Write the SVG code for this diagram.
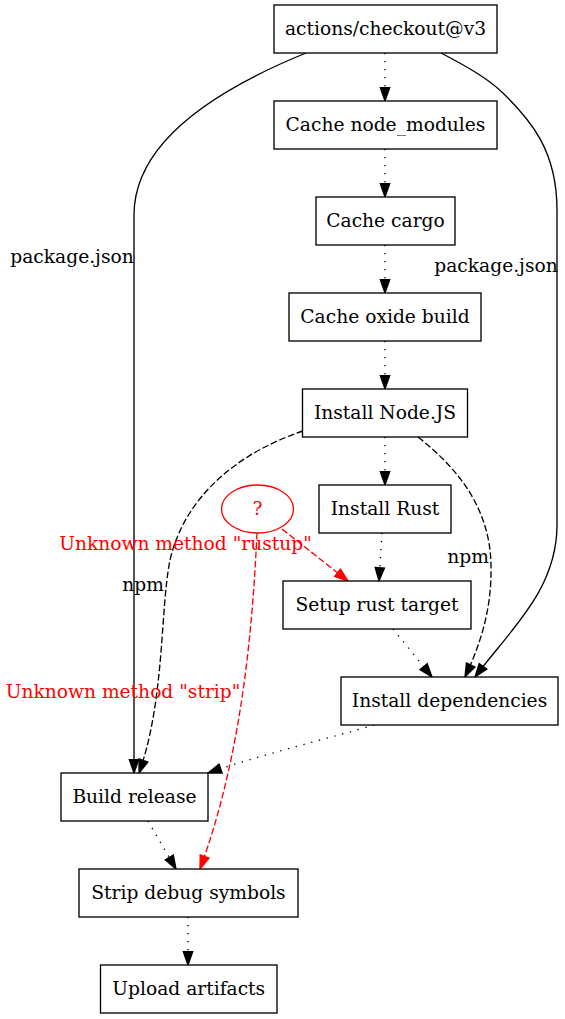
<svg xmlns="http://www.w3.org/2000/svg" width="565" height="1019" viewBox="0 0 565 1019">
<style>
  text { font-family: "DejaVu Serif", serif; font-size: 18.67px; text-anchor: middle; }
  .box { fill: #ffffff; stroke: #000000; stroke-width: 1.33; }
  .bad { fill: #ffffff; stroke: #ff0000; stroke-width: 1.33; }
  .red { fill: #ff0000; }
  .e { fill: none; stroke: #000000; stroke-width: 1.33; }
  .solid { marker-end: url(#ab); }
  .dot { stroke-dasharray: 1.33 6.67; marker-end: url(#ab); }
  .dash { stroke-dasharray: 6.67 2.67; marker-end: url(#ab); }
  .rdash { stroke: #ff0000; stroke-dasharray: 6.67 2.67; marker-end: url(#ar); }
</style>
<defs>
  <marker id="ab" markerUnits="userSpaceOnUse" viewBox="-1 -6 16 12" markerWidth="16" markerHeight="12" refX="13.33" refY="0" orient="auto">
    <path d="M0,-4.67 L13.33,0 L0,4.67 Z" fill="#000000" stroke="#000000" stroke-width="1.33" stroke-dasharray="none"/>
  </marker>
  <marker id="ar" markerUnits="userSpaceOnUse" viewBox="-1 -6 16 12" markerWidth="16" markerHeight="12" refX="13.33" refY="0" orient="auto">
    <path d="M0,-4.67 L13.33,0 L0,4.67 Z" fill="#ff0000" stroke="#ff0000" stroke-width="1.33" stroke-dasharray="none"/>
  </marker>
</defs>
<rect width="565" height="1019" fill="#ffffff"/>
<g id="edges">
  <path class="e solid" d="M306,53 C220,88 134,140 134,215 L134,773"/>
  <path class="e solid" d="M441,53 C470,68 490,80 505,95 C530,120 557,150 557,210 L557,525 C557,590 510,630 475,677"/>
  <path class="e dot" d="M385,53 L385,101"/>
  <path class="e dot" d="M385,149 L385,197"/>
  <path class="e dot" d="M385,245 L385,293"/>
  <path class="e dot" d="M385,341 L385,389"/>
  <path class="e dot" d="M385,437 L385,485"/>
  <path class="e dash" d="M303,431 C240,452 185,495 170,560 C160,610 165,700 139,773"/>
  <path class="e dash" d="M418,437 C460,470 490,510 491,565 C492,610 480,645 465,677"/>
  <path class="e dot" d="M382,533 L379,581"/>
  <path class="e dot" d="M393,629 L432,677"/>
  <path class="e dot" d="M374,725 C330,738 260,755 208,773"/>
  <path class="e dot" d="M148,821 L176,869"/>
  <path class="e dot" d="M188,917 L188,965"/>
  <path class="e rdash" d="M282,529 L348,581"/>
  <path class="e rdash" d="M257,533 C252,640 240,760 200,869"/>
  <text x="72" y="263">package.json</text>
  <text x="496" y="272">package.json</text>
  <text x="143" y="591">npm</text>
  <text x="468" y="563">npm</text>
  <text class="red" x="185.5" y="550">Unknown method "rustup"</text>
  <text class="red" x="123" y="698">Unknown method "strip"</text>
</g>
<g id="checkout"><rect class="box" x="274" y="5" width="223" height="48"/><text x="385.5" y="35">actions/checkout@v3</text></g>
<g id="cache_node_modules"><rect class="box" x="274" y="101" width="223" height="48"/><text x="385.5" y="131">Cache node_modules</text></g>
<g id="cache_cargo"><rect class="box" x="316" y="197" width="139" height="48"/><text x="385.5" y="227">Cache cargo</text></g>
<g id="cache_oxide"><rect class="box" x="289" y="293" width="192" height="48"/><text x="385" y="323">Cache oxide build</text></g>
<g id="install_node"><rect class="box" x="302.5" y="389" width="165" height="48"/><text x="385" y="419">Install Node.JS</text></g>
<g id="install_rust"><rect class="box" x="319" y="485" width="132" height="48"/><text x="385" y="515">Install Rust</text></g>
<g id="unknown"><ellipse class="bad" cx="257.5" cy="509" rx="36" ry="24"/><text class="red" x="257.5" y="515">?</text></g>
<g id="setup_rust_target"><rect class="box" x="283" y="581" width="188" height="48"/><text x="377" y="611">Setup rust target</text></g>
<g id="install_deps"><rect class="box" x="341" y="677" width="217" height="48"/><text x="449.5" y="707">Install dependencies</text></g>
<g id="build_release"><rect class="box" x="61" y="773" width="147" height="48"/><text x="134.5" y="803">Build release</text></g>
<g id="strip"><rect class="box" x="79" y="869" width="219" height="48"/><text x="188.5" y="899">Strip debug symbols</text></g>
<g id="upload"><rect class="box" x="100.5" y="965" width="176.5" height="48"/><text x="188.75" y="995">Upload artifacts</text></g>
</svg>
